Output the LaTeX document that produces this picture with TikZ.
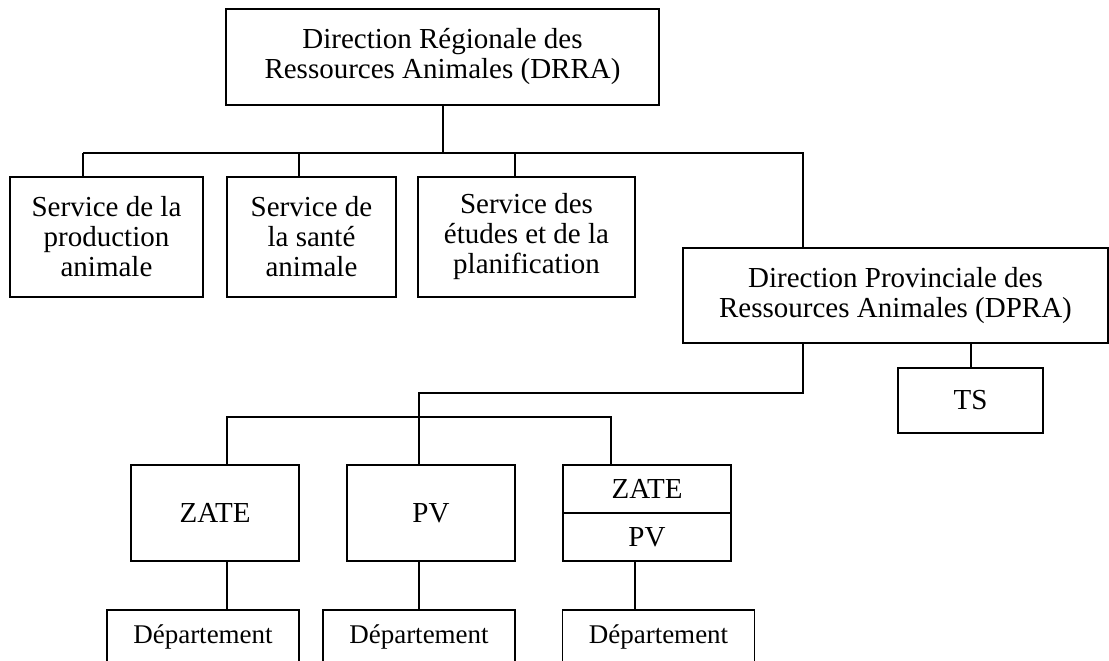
\documentclass[tikz,border=0pt]{standalone}
\usepackage{fontspec}
\setmainfont{Liberation Serif}
\begin{document}
\begin{tikzpicture}[x=1pt,y=-1pt,
  line/.style={line width=1.7pt},
  box/.style={draw, line width=1.7pt, inner sep=0pt, align=center,
    font=\fontsize{29}{30}\selectfont},
  deptext/.style={font=\fontsize{27}{29}\selectfont},
  depbox/.style={draw, line width=1.7pt, inner sep=0pt, align=center,
    minimum width=192pt, minimum height=142pt}]
\useasboundingbox (0,0) rectangle (1109,661);
\clip (0,0) rectangle (1109,661);
\fill[white] (0,0) rectangle (1109,661);

% top
\node[box, minimum width=433pt, minimum height=96pt] (drra) at (442.5,57)
  {Direction Régionale des\\Ressources Animales (DRRA)};

\node[box, minimum width=193pt, minimum height=120pt] (s1) at (106.5,237)
  {Service de la\\production\\animale};
\node[box, minimum width=169pt, minimum height=120pt] (s2) at (311.5,237)
  {Service de\\la santé\\animale};
\node[box, minimum width=217pt, minimum height=120pt] (s3) at (526.5,237)
  {Service des\\études et de la\\planification};

\node[box, minimum width=425pt, minimum height=95pt] (dpra) at (895.5,295.5)
  {Direction Provinciale des\\Ressources Animales (DPRA)};
\node[box, minimum width=145pt, minimum height=65pt] (ts) at (970.5,400.5) {TS};

\node[box, minimum width=168pt, minimum height=96pt] (zate) at (215,513) {ZATE};
\node[box, minimum width=168pt, minimum height=96pt] (pv) at (431,513) {PV};
\node[box, minimum width=168pt, minimum height=96pt] (zp) at (647,513) {};
\node[font=\fontsize{29}{30}\selectfont] (zpa) at (647,489) {ZATE};
\node[font=\fontsize{29}{30}\selectfont] (zpb) at (647,537) {PV};
\draw[line] (zp.west) -- (zp.east);

\node[depbox, anchor=north] (d1) at (203,609) {};
\node[depbox, anchor=north] (d2) at (419,609) {};
\node[depbox, anchor=north] (d3) at (658.5,609) {};
\node[deptext] (t1) at (203,637) {Département};
\node[deptext] (t2) at (419,637) {Département};
\node[deptext] (t3) at (658.5,637) {Département};

% connectors level 1
\coordinate (b0) at (443,153);
\coordinate (b1) at (83,153);
\coordinate (b2) at (299,153);
\coordinate (b3) at (515,153);
\coordinate (b4) at (803,153);
\draw[line] (drra.south -| b0) -- (b0);
\draw[line] (b1) -- (b4) -- (b4 |- dpra.north);
\draw[line] (b1) -- (b1 |- s1.north);
\draw[line] (b2) -- (b2 |- s2.north);
\draw[line] (b3) -- (b3 |- s3.north);

% DPRA to TS
\coordinate (tsx) at (971,0);
\draw[line] (dpra.south -| tsx) -- (ts.north -| tsx);

% DPRA to lower level
\coordinate (c0) at (803,393);
\coordinate (c1) at (419,393);
\coordinate (e1) at (227,417);
\coordinate (e3) at (611,417);
\draw[line] (dpra.south -| c0) -- (c0) -- (c1) -- (c1 |- pv.north);
\draw[line] (e1 |- zate.north) -- (e1) -- (e3) -- (e3 |- zp.north);

% to departments
\coordinate (f1) at (227,0);
\coordinate (f2) at (419,0);
\coordinate (f3) at (635,0);
\draw[line] (zate.south -| f1) -- (d1.north -| f1);
\draw[line] (pv.south -| f2) -- (d2.north -| f2);
\draw[line] (zp.south -| f3) -- (d3.north -| f3);
\end{tikzpicture}
\end{document}
